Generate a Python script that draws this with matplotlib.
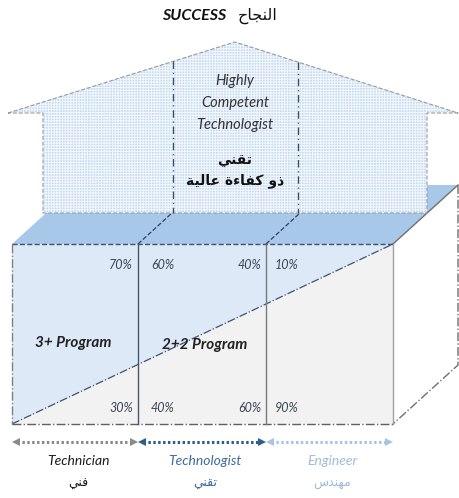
import matplotlib.pyplot as plt
from matplotlib.patches import Polygon

# --- data ---
title_en = 'SUCCESS'
title_ar = 'النجاح'
house_en = ['Highly', 'Competent', 'Technologist']
house_ar = ['تقني', 'ذو كفاءة عالية']
programs = ['3+ Program', '2+2 Program']
pct_top = ['70%', '60%', '40%', '10%']
pct_bottom = ['30%', '40%', '60%', '90%']
roles_en = ['Technician', 'Technologist', 'Engineer']
roles_ar = ['فني', 'تقني', 'مهندس']
role_colors = ['#8a8a8a', '#2f5d8c', '#a9c3e3']
role_text_colors = ['#1a1a1a', '#3b6a9c', '#a3b9d8']

# arabic letter forms: isolated, final, initial, medial
FORMS = {
    'ا': ('\ufe8d', '\ufe8e', None, None),
    'ء': ('\ufe80', None, None, None),
    'ة': ('\ufe93', '\ufe94', None, None),
    'ت': ('\ufe95', '\ufe96', '\ufe97', '\ufe98'),
    'ج': ('\ufe9d', '\ufe9e', '\ufe9f', '\ufea0'),
    'ح': ('\ufea1', '\ufea2', '\ufea3', '\ufea4'),
    'د': ('\ufea9', '\ufeaa', None, None),
    'ذ': ('\ufeab', '\ufeac', None, None),
    'س': ('\ufeb1', '\ufeb2', '\ufeb3', '\ufeb4'),
    'ع': ('\ufec9', '\ufeca', '\ufecb', '\ufecc'),
    'ف': ('\ufed1', '\ufed2', '\ufed3', '\ufed4'),
    'ق': ('\ufed5', '\ufed6', '\ufed7', '\ufed8'),
    'ك': ('\ufed9', '\ufeda', '\ufedb', '\ufedc'),
    'ل': ('\ufedd', '\ufede', '\ufedf', '\ufee0'),
    'م': ('\ufee1', '\ufee2', '\ufee3', '\ufee4'),
    'ن': ('\ufee5', '\ufee6', '\ufee7', '\ufee8'),
    'ه': ('\ufee9', '\ufeea', '\ufeeb', '\ufeec'),
    'و': ('\ufeed', '\ufeee', None, None),
    'ي': ('\ufef1', '\ufef2', '\ufef3', '\ufef4'),
}


def ar(word):
    out = []
    for i, ch in enumerate(word):
        if ch not in FORMS:
            out.append(ch)
            continue
        iso, fin, ini, med = FORMS[ch]
        prev = word[i - 1] if i > 0 else None
        nxt = word[i + 1] if i + 1 < len(word) else None
        jp = prev in FORMS and FORMS[prev][2] is not None and fin is not None
        jn = nxt in FORMS and ini is not None and FORMS[nxt][1] is not None
        if jp and jn:
            out.append(med)
        elif jp:
            out.append(fin)
        elif jn:
            out.append(ini)
        else:
            out.append(iso)
    return ''.join(reversed(out))


plt.rcParams['hatch.linewidth'] = 0.7

fig = plt.figure(figsize=(4.59, 4.98), dpi=100)
ax = fig.add_axes([0, 0, 1, 1])
ax.set_xlim(0, 459)
ax.set_ylim(498, 0)
ax.axis('off')

EN = ['Lato', 'DejaVu Sans']
AR = ['DejaVu Sans']

# box geometry
cols = [12, 138, 266, 393]
top, bot = 244, 424
dx, dy = 65, -59

# top face
ax.add_patch(Polygon([(cols[0], top), (cols[-1], top), (cols[-1] + dx, top + dy), (cols[0] + dx, top + dy)],
                     closed=True, fc='#a8c8ea', ec='none', zorder=1))
# right face
ax.add_patch(Polygon([(cols[-1], top), (cols[-1] + dx, top + dy), (cols[-1] + dx, bot + dy), (cols[-1], bot)],
                     closed=True, fc='white', ec='none', zorder=1))
ax.plot([cols[-1], cols[-1] + dx], [top, top + dy], color='#707070', lw=1, zorder=3)
ax.plot([cols[-1] + dx, cols[-1] + dx, cols[-1]], [top + dy, bot + dy, bot], color='#707070', lw=1,
        ls='-.', zorder=3)
# front face: blue upper-left triangle, gray lower-right
ax.add_patch(Polygon([(cols[0], top), (cols[-1], top), (cols[-1], bot), (cols[0], bot)],
                     closed=True, fc='#f2f2f2', ec='none', zorder=1))
ax.add_patch(Polygon([(cols[0], top), (cols[-1], top), (cols[0], bot)],
                     closed=True, fc='#dde9f7', ec='none', zorder=1))
ax.plot([cols[0], cols[-1]], [bot, top], color='#3e5170', lw=0.9, ls='-.', zorder=3)
ax.plot([cols[0], cols[0]], [top, bot], color='#808080', lw=1, ls='-.', zorder=3)
ax.plot([cols[0], cols[-1]], [bot, bot], color='#606060', lw=1, ls='-.', zorder=3)
ax.plot([cols[0], cols[-1]], [top, top], color='#3e5170', lw=1, ls='--', zorder=3)
ax.plot([cols[-1], cols[-1]], [top, bot], color='#a0a0a0', lw=1, zorder=3)
ax.plot([cols[1], cols[1]], [top, bot], color='#4a5668', lw=1, zorder=3)
ax.plot([cols[2], cols[2]], [top, bot], color='#7a7a7a', lw=1, zorder=3)

# house: fill with fine white hatch, then dashed outline
hb = 213
house = [(8, 113), (235, 42), (458, 113), (427, 113), (427, hb), (43, hb), (43, 113)]
ax.add_patch(Polygon(house, closed=True, fc='#c6dbf1', ec='#f4f8fd', lw=0, hatch='++++++', zorder=2))
hx, hy = zip(*(house + [house[0]]))
ax.plot(hx, hy, color='#9a9a9a', lw=0.8, ls='--', zorder=3)

# dashed lines: house walls + top face
for x in [173, 298]:
    ax.plot([x, x], [42 + abs(235 - x) * 71 / 227, hb], color='#3e4a5a', lw=0.9,
            ls=(0, (6, 3, 1, 3)), zorder=3)
for x0 in cols[1:3]:
    ax.plot([x0, x0 + 34], [top, hb], color='#2f4060', lw=0.9, ls='--', zorder=3)

# house texts
for i, t in enumerate(house_en):
    ax.text(235, 81 + i * 22, t, ha='center', va='center', fontsize=10.5, style='italic',
            color='#333333', family=EN, zorder=4)
for i, t in enumerate(house_ar):
    ax.text(235, 161 + i * 20, ar(t), ha='center', va='center', fontsize=10, fontweight='bold',
            color='#111111', family=AR, zorder=4)

# title
ax.text(226, 16, title_en, ha='right', va='center', fontsize=11.5, fontweight='bold', style='italic',
        color='#111111', family=EN)
ax.text(238, 16, ar(title_ar), ha='left', va='center', fontsize=11.5, color='#111111', family=AR)

# percentages
xs_pct = [(cols[1] - 5, 'right'), (cols[1] + 13, 'left'), (cols[2] - 5, 'right'), (cols[2] + 9, 'left')]
for (x, ha), t, b in zip(xs_pct, pct_top, pct_bottom):
    ax.text(x, 265, t, ha=ha, va='center', fontsize=9, style='italic', color='#3d4656', family=EN, zorder=4)
    ax.text(x, 408, b, ha=ha, va='center', fontsize=9, style='italic', color='#3d4656', family=EN, zorder=4)

# program labels
ax.text(73, 343, programs[0], ha='center', va='center', fontsize=11, fontweight='bold', style='italic',
        color='#222222', family=EN, zorder=4)
ax.text(205, 345, programs[1], ha='center', va='center', fontsize=11, fontweight='bold', style='italic',
        color='#222222', family=EN, zorder=4)

# arrows and role labels
ya = 442
for i, (name, arn) in enumerate(zip(roles_en, roles_ar)):
    x0, x1 = cols[i], cols[i + 1]
    c = role_colors[i]
    ax.plot([x0 + 5, x1 - 5], [ya, ya], color=c, lw=2.2, ls=(0, (0.8, 0.8)), zorder=3)
    ax.plot([x0 + 4], [ya], marker='<', color=c, ms=6, mew=0, zorder=4)
    ax.plot([x1 - 4], [ya], marker='>', color=c, ms=6, mew=0, zorder=4)
    xm = (x0 + x1) / 2 + 3
    ax.text(xm, 461, name, ha='center', va='center', fontsize=10, style='italic',
            color=role_text_colors[i], family=EN)
    ax.text(xm, 483, ar(arn), ha='center', va='center', fontsize=9,
            color=role_text_colors[i], family=AR)

fig.savefig('out.png', dpi=100)
